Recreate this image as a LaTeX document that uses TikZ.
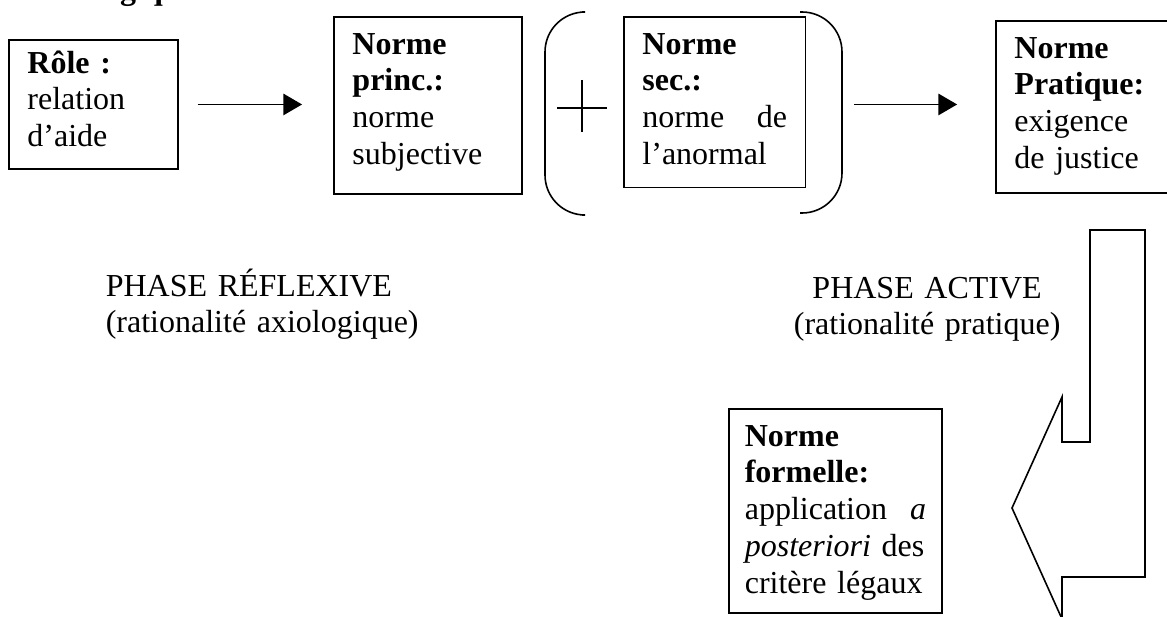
\documentclass[tikz,border=0pt]{standalone}
\usepackage{fontspec}
\setmainfont{Liberation Serif}
\usetikzlibrary{arrows.meta}

\begin{document}
\begin{tikzpicture}[x=0.375pt, y=-0.375pt, line width=0.6pt,
    font=\fontsize{12pt}{13.8pt}\selectfont,
    normbox/.style={draw, anchor=north west, align=left, inner xsep=7pt, inner ysep=0pt, text height=14pt},
    phase/.style={anchor=base west, inner sep=0pt},
    flow/.style={-{Triangle[length=7pt,width=8pt]}}]
  \useasboundingbox (0,0) rectangle (1167,617);
  \fill[white] (0,0) rectangle (1167,617);
  \clip (0,0) rectangle (1167,617);

  \node[phase, font=\fontsize{12pt}{13.8pt}\selectfont\bfseries] (T) at (2,0) {déontologique};

  \node[normbox, text width=49.5pt, text height=12.5pt, text depth=36pt] (A) at (8,39)
    {\textbf{Rôle :}\\ relation\\ d’aide};
  \node[normbox, text width=56.5pt, text depth=52.4pt] (B) at (333,16)
    {\textbf{Norme}\\ \textbf{princ.:}\\ norme\\ subjective};
  \node[normbox, text width=54.2pt, text depth=50pt] (C) at (623,16)
    {\textbf{Norme}\\ \textbf{sec.:}\\ norme \hfill de\\ l’anormal};
  \node[normbox, text width=53.5pt, text depth=50.5pt] (D) at (995,20)
    {\textbf{Norme}\\ \textbf{Pratique:}\\ exigence\\ de justice};
  \node[normbox, inner xsep=6pt, text width=68pt, text depth=62.5pt] (E) at (728,408)
    {\textbf{Norme}\\ \textbf{formelle:}\\ application \hfill \textit{a}\\ \textit{posteriori} des\\ critère légaux};

  % parentheses and plus
  \draw[rounded corners=15pt] (582,12) -- (545,12) -- (545,215) -- (582,215);
  \draw[rounded corners=15pt] (800,12) -- (842,12) -- (842,213) -- (800,213);
  \draw (557,108) -- (607,108) (582,80) -- (582,132);

  \path[flow]
    (A.east) edge[shorten <=7pt, shorten >=11.6pt] (A.east -| B.west)
    (A.east -| C.east) edge[shorten <=18pt, shorten >=14.2pt] (A.east -| D.west);

  % bent arrow down to the formal norm
  \draw (1090,230) -- (1145,230) -- (1145,577) -- (1062,577) -- (1062,619)
    -- (1012,508) -- (1062,397) -- (1062,442) -- (1090,442) -- cycle;

  \node[phase, text width=130pt, align=left] (P) at (105,296)
    {PHASE RÉFLEXIVE\\ (rationalité axiologique)};
  \node[phase, text width=100pt, align=center] (Q) at (793,298)
    {PHASE ACTIVE\\ (rationalité pratique)};
\end{tikzpicture}
\end{document}
